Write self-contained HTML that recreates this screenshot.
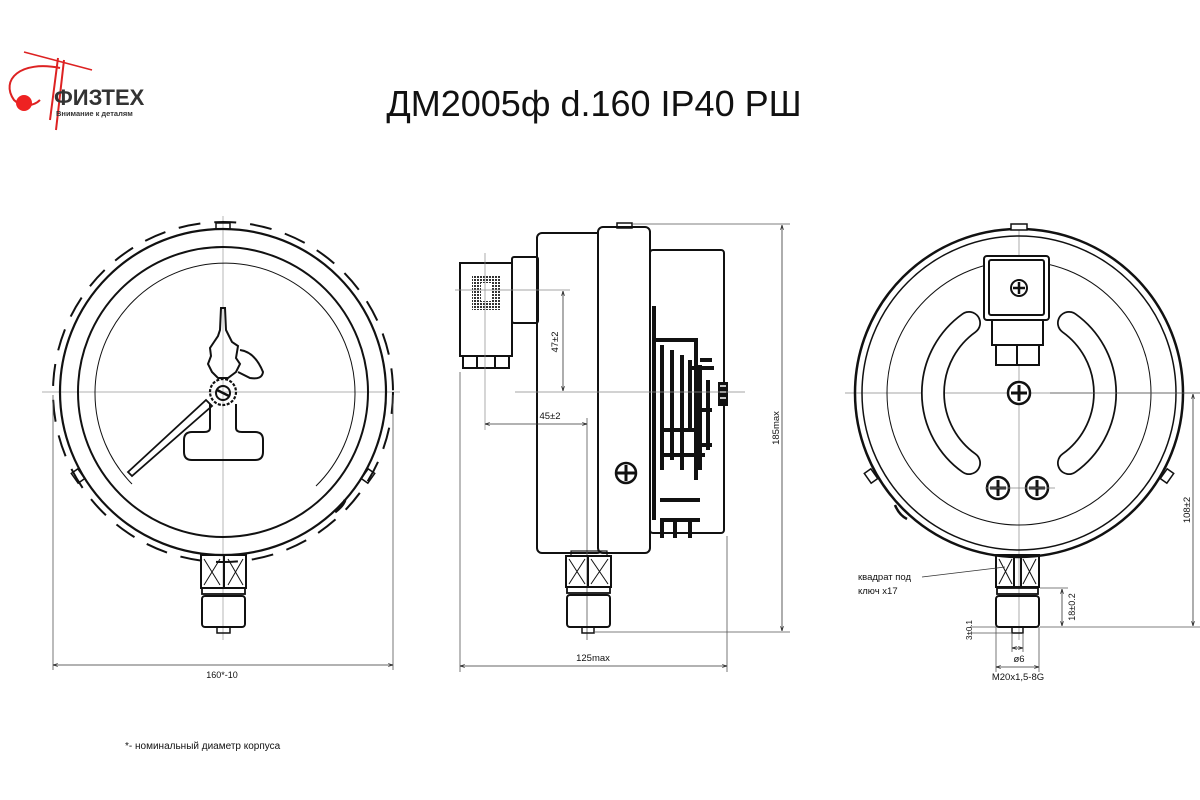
<!DOCTYPE html>
<html><head><meta charset="utf-8"><style>
html,body{margin:0;padding:0;background:#fff;}
svg{display:block;}
text{font-family:"Liberation Sans","DejaVu Sans",sans-serif;fill:#111;}
</style></head><body>
<svg width="1200" height="800" viewBox="0 0 1200 800" xmlns="http://www.w3.org/2000/svg">
<defs>
<marker id="a" viewBox="0 0 10 10" refX="10" refY="5" markerWidth="6" markerHeight="6" orient="auto-start-reverse"><path d="M0,2 L10,5 L0,8" fill="none" stroke="#222" stroke-width="1.5"/></marker>
<pattern id="grid" width="3" height="3" patternUnits="userSpaceOnUse"><rect width="2" height="2" fill="#333"/></pattern>
</defs>

<!-- Logo -->
<g>
<path d="M24,52 L92,70" stroke="#d22" stroke-width="1.5"/>
<path d="M58,58 L50,120 M64,60 L56,130" stroke="#d22" stroke-width="2" fill="none"/>
<path d="M60,68 C20,60 0,80 14,100 C22,108 34,106 40,100" stroke="#d22" stroke-width="2" fill="none"/>
<circle cx="24" cy="103" r="8" fill="#e22"/>
<text x="54" y="105" font-size="22" font-weight="bold" style="fill:#333">ФИЗТЕХ</text>
<text x="56" y="116" font-size="7.5" font-weight="bold" style="fill:#333">Внимание к деталям</text>
</g>

<text x="594" y="116" font-size="36" text-anchor="middle">ДМ2005ф d.160 IP40 РШ</text>

<g fill="none" stroke="#111">
<!-- ===== LEFT VIEW ===== -->
<line x1="42" y1="392" x2="400" y2="392" stroke="#999" stroke-width="0.7"/>
<line x1="223" y1="216" x2="223" y2="640" stroke="#999" stroke-width="0.7"/>
<circle cx="223" cy="392" r="170" stroke-width="2" stroke-dasharray="22 14"/>
<circle cx="223" cy="392" r="163" stroke-width="2.2"/>
<circle cx="223" cy="392" r="145" stroke-width="2"/>
<path d="M132,484 A130,130 0 1 1 316,486" stroke-width="1"/>
<rect x="216" y="223" width="14" height="6" stroke-width="1.5"/>
<rect x="74" y="470" width="8" height="12" stroke-width="1.5" transform="rotate(-35 78 476)"/>
<rect x="364" y="470" width="8" height="12" stroke-width="1.5" transform="rotate(35 368 476)"/>
<path d="M335,512 q8,-6 10,-12" stroke-width="3"/>
<!-- pointer -->
<path d="M128,472 L206,400 L212,406 L132,476 Z" stroke-width="1.8"/>
<path d="M221,308 L225,308 L226,330 L229,336 L232,342 L238,346 L236,358 L240,364 L236,372 L228,378 L218,378 L212,372 L208,364 L211,356 L210,348 L214,342 L218,336 L220,330 Z" stroke-width="2"/>
<path d="M240,350 Q255,352 263,372 Q262,380 250,378 L238,372" stroke-width="2"/>
<circle cx="223" cy="392" r="13" stroke-width="2.2" stroke-dasharray="3 1.5"/>
<circle cx="223" cy="393" r="7" stroke-width="2"/>
<line x1="217" y1="390" x2="229" y2="396" stroke-width="2.5"/>
<path d="M210,404 L210,428 Q210,432 204,432 L192,432 Q184,432 184,440 L184,452 Q184,460 192,460 L255,460 Q263,460 263,452 L263,440 Q263,432 255,432 L242,432 Q236,432 236,428 L236,404" stroke-width="2"/>
<!-- fitting -->
<rect x="201" y="555" width="45" height="33" stroke-width="2"/>
<line x1="224" y1="555" x2="224" y2="588" stroke-width="2"/>
<path d="M204,559 L220,585 M220,559 L204,585 M228,559 L243,585 M243,559 L228,585" stroke-width="1"/>
<rect x="202" y="588" width="43" height="6" stroke-width="1.8"/>
<rect x="202" y="596" width="43" height="31" rx="3" stroke-width="2"/>
<rect x="217" y="627" width="13" height="6" stroke-width="1.5"/>
<!-- dim 160 -->
<line x1="53" y1="395" x2="53" y2="670" stroke="#555" stroke-width="0.8"/>
<line x1="393" y1="395" x2="393" y2="670" stroke="#555" stroke-width="0.8"/>
<line x1="53" y1="665" x2="393" y2="665" stroke="#333" stroke-width="0.8" marker-start="url(#a)" marker-end="url(#a)"/>

<!-- ===== MIDDLE VIEW ===== -->
<rect x="460" y="263" width="52" height="93" stroke-width="2"/>
<rect x="472" y="275" width="28" height="35" fill="url(#grid)" stroke="none"/>
<rect x="481" y="283" width="11" height="18" fill="#fff" stroke="none"/>
<path d="M463,356 L509,356 L509,368 L463,368 Z M477,356 L477,368 M495,356 L495,368" stroke-width="2"/>
<rect x="512" y="257" width="26" height="66" rx="2" stroke-width="2"/>
<rect x="537" y="233" width="65" height="320" rx="5" stroke-width="2"/>
<rect x="598" y="227" width="52" height="326" rx="5" stroke-width="2" fill="#fff"/>
<rect x="617" y="223" width="15" height="5" stroke-width="1.5"/>
<rect x="650" y="250" width="74" height="283" rx="3" stroke-width="2"/>
<circle cx="626" cy="473" r="10" stroke-width="2.5"/>
<path d="M617,473 H635 M626,465 V481" stroke-width="3"/>
<!-- mechanism -->
<g stroke-width="4">
<path d="M654,306 V340 H696 V480 M654,340 V520"/>
<path d="M662,345 V470 M672,350 V460 M682,355 V470 M690,360 V430 M700,365 V470 M708,380 V450"/>
<path d="M660,430 H700 M660,455 H705 M660,500 H700 M660,520 H700 M700,360 H712"/>
<path d="M690,368 H714 M700,410 H712 M700,445 H712"/>
<path d="M662,520 V538 M675,520 V538 M690,520 V538"/>
</g>
<rect x="718" y="382" width="10" height="24" fill="#111" stroke="none"/>
<path d="M720,386h6M720,392h6M720,398h6" stroke="#fff" stroke-width="1.5"/>
<line x1="515" y1="392" x2="745" y2="392" stroke="#888" stroke-width="0.7"/>
<line x1="485" y1="253" x2="485" y2="430" stroke="#888" stroke-width="0.7"/>
<line x1="455" y1="290" x2="570" y2="290" stroke="#888" stroke-width="0.7"/>
<line x1="587" y1="418" x2="587" y2="640" stroke="#555" stroke-width="0.8"/>
<line x1="563" y1="291" x2="563" y2="391" stroke="#333" stroke-width="0.8" marker-start="url(#a)" marker-end="url(#a)"/>
<line x1="485" y1="424" x2="587" y2="424" stroke="#333" stroke-width="0.8" marker-start="url(#a)" marker-end="url(#a)"/>
<!-- fitting -->
<rect x="566" y="556" width="45" height="31" stroke-width="2"/>
<line x1="588" y1="556" x2="588" y2="587" stroke-width="2"/>
<path d="M569,559 L585,584 M585,559 L569,584 M591,559 L608,584 M608,559 L591,584" stroke-width="1"/>
<rect x="567" y="587" width="43" height="6" stroke-width="1.8"/>
<rect x="567" y="595" width="43" height="32" rx="3" stroke-width="2"/>
<rect x="582" y="627" width="12" height="6" stroke-width="1.5"/>
<rect x="571" y="551" width="36" height="5" stroke-width="1.2"/>
<!-- dims -->
<line x1="632" y1="224" x2="790" y2="224" stroke="#555" stroke-width="0.8"/>
<line x1="594" y1="632" x2="790" y2="632" stroke="#555" stroke-width="0.8"/>
<line x1="782" y1="225" x2="782" y2="631" stroke="#333" stroke-width="0.8" marker-start="url(#a)" marker-end="url(#a)"/>
<line x1="460" y1="372" x2="460" y2="672" stroke="#555" stroke-width="0.8"/>
<line x1="727" y1="536" x2="727" y2="672" stroke="#555" stroke-width="0.8"/>
<line x1="460" y1="666" x2="727" y2="666" stroke="#333" stroke-width="0.8" marker-start="url(#a)" marker-end="url(#a)"/>

<!-- ===== RIGHT VIEW ===== -->
<line x1="845" y1="393" x2="1200" y2="393" stroke="#888" stroke-width="0.7"/>
<line x1="1019" y1="225" x2="1019" y2="640" stroke="#888" stroke-width="0.7"/>
<circle cx="1019" cy="393" r="164" stroke-width="2.5"/>
<circle cx="1019" cy="393" r="157" stroke-width="1.5"/>
<circle cx="1019" cy="393" r="132" stroke-width="1"/>
<rect x="1011" y="224" width="16" height="6" stroke-width="1.5" fill="#fff"/>
<rect x="867" y="470" width="8" height="12" stroke-width="1.5" transform="rotate(-35 871 476)"/>
<rect x="1163" y="470" width="8" height="12" stroke-width="1.5" transform="rotate(35 1167 476)"/>
<path d="M895,505 q4,10 12,14" stroke-width="2.5"/>
<!-- slots -->
<path d="M969,323 A86,86 0 0 0 969,463" stroke-width="24" stroke-linecap="round" stroke="#111"/>
<path d="M969,323 A86,86 0 0 0 969,463" stroke-width="20.5" stroke-linecap="round" stroke="#fff"/>
<path d="M1069,323 A86,86 0 0 1 1069,463" stroke-width="24" stroke-linecap="round" stroke="#111"/>
<path d="M1069,323 A86,86 0 0 1 1069,463" stroke-width="20.5" stroke-linecap="round" stroke="#fff"/>
<!-- connector -->
<rect x="984" y="256" width="65" height="64" rx="3" stroke-width="2" fill="#fff"/>
<rect x="989" y="260" width="55" height="55" rx="2" stroke-width="2"/>
<circle cx="1019" cy="288" r="8" stroke-width="2"/>
<path d="M1013,288h12M1019,282v12" stroke-width="2.5"/>
<rect x="992" y="320" width="51" height="25" stroke-width="2" fill="#fff"/>
<rect x="996" y="345" width="43" height="20" stroke-width="2" fill="#fff"/>
<line x1="1017" y1="345" x2="1017" y2="365" stroke-width="2"/>
<circle cx="1019" cy="393" r="11" stroke-width="2.5" fill="#fff"/>
<path d="M1011,393h16M1019,385v16" stroke-width="3"/>
<circle cx="998" cy="488" r="11" stroke-width="2.5" fill="#fff"/>
<path d="M990,488h16M998,480v16" stroke-width="3"/>
<circle cx="1037" cy="488" r="11" stroke-width="2.5" fill="#fff"/>
<path d="M1029,488h16M1037,480v16" stroke-width="3"/>
<line x1="985" y1="488" x2="1055" y2="488" stroke="#888" stroke-width="0.7"/>
<!-- fitting -->
<rect x="996" y="555" width="43" height="32" stroke-width="2"/>
<line x1="1014" y1="555" x2="1014" y2="587" stroke-width="2"/>
<line x1="1021" y1="555" x2="1021" y2="587" stroke-width="2"/>
<path d="M999,559 L1012,584 M1012,559 L999,584 M1023,559 L1036,584 M1036,559 L1023,584" stroke-width="1"/>
<rect x="997" y="588" width="41" height="6" stroke-width="1.8"/>
<rect x="996" y="596" width="43" height="31" rx="3" stroke-width="2"/>
<rect x="1012" y="627" width="11" height="6" stroke-width="1.5"/>
<line x1="922" y1="577" x2="1005" y2="567" stroke="#333" stroke-width="0.8"/>
<!-- dims -->
<line x1="1050" y1="393" x2="1200" y2="393" stroke="#555" stroke-width="0.8"/>
<line x1="1040" y1="627" x2="1200" y2="627" stroke="#555" stroke-width="0.8"/>
<line x1="1193" y1="394" x2="1193" y2="626" stroke="#333" stroke-width="0.8" marker-start="url(#a)" marker-end="url(#a)"/>
<line x1="1040" y1="588" x2="1068" y2="588" stroke="#555" stroke-width="0.8"/>
<line x1="1062" y1="589" x2="1062" y2="626" stroke="#333" stroke-width="0.8" marker-start="url(#a)" marker-end="url(#a)"/>
<line x1="970" y1="633" x2="1012" y2="633" stroke="#555" stroke-width="0.8"/>
<line x1="970" y1="627" x2="996" y2="627" stroke="#555" stroke-width="0.8"/>
<line x1="996" y1="627" x2="996" y2="672" stroke="#555" stroke-width="0.8"/>
<line x1="1039" y1="627" x2="1039" y2="672" stroke="#555" stroke-width="0.8"/>
<line x1="1012" y1="633" x2="1012" y2="652" stroke="#555" stroke-width="0.8"/>
<line x1="1023" y1="633" x2="1023" y2="652" stroke="#555" stroke-width="0.8"/>
<line x1="1012" y1="648" x2="1023" y2="648" stroke="#333" stroke-width="0.8" marker-start="url(#a)" marker-end="url(#a)"/>
<line x1="996" y1="667" x2="1039" y2="667" stroke="#333" stroke-width="0.8" marker-start="url(#a)" marker-end="url(#a)"/>
</g>

<!-- labels -->
<text x="222" y="678" font-size="9" text-anchor="middle">160*-10</text>
<text x="593" y="661" font-size="9.5" text-anchor="middle">125max</text>
<text transform="translate(779,428) rotate(-90)" font-size="9.5" text-anchor="middle">185max</text>
<text transform="translate(558,342) rotate(-90)" font-size="9.5" text-anchor="middle">47±2</text>
<text x="550" y="419" font-size="9.5" text-anchor="middle">45±2</text>
<text transform="translate(1190,510) rotate(-90)" font-size="9.5" text-anchor="middle">108±2</text>
<text transform="translate(1075,607) rotate(-90)" font-size="9" text-anchor="middle">18±0.2</text>
<text transform="translate(972,630) rotate(-90)" font-size="8" text-anchor="middle">3±0.1</text>
<text x="1019" y="662" font-size="9.5" text-anchor="middle">ø6</text>
<text x="1018" y="680" font-size="9.5" text-anchor="middle">M20x1,5-8G</text>
<text x="858" y="580" font-size="9.5">квадрат под</text>
<text x="858" y="594" font-size="9.5">ключ х17</text>
<text x="125" y="749" font-size="10">*- номинальный диаметр корпуса</text>
</svg>
</body></html>
